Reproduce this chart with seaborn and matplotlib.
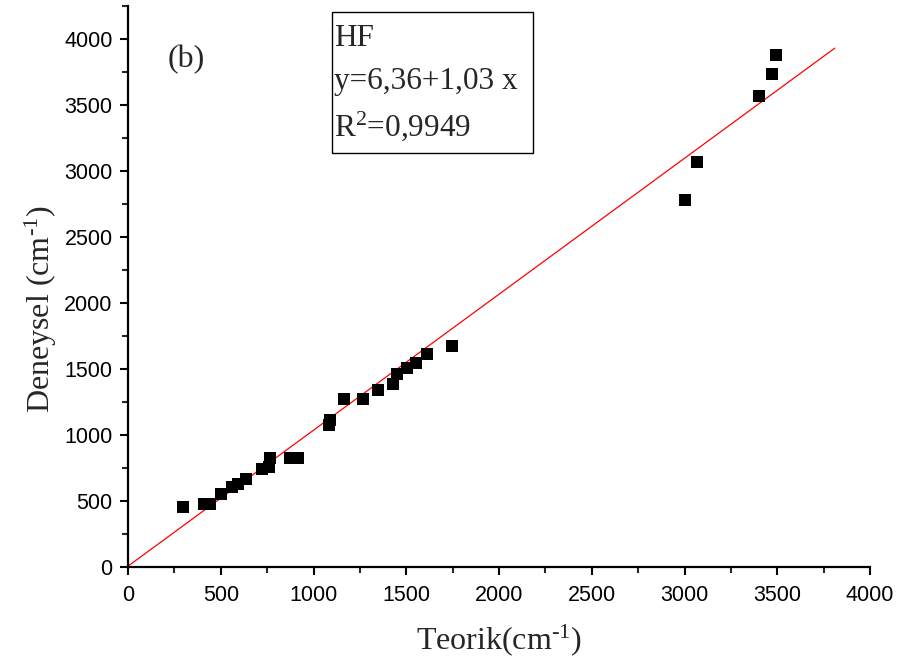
import matplotlib
matplotlib.use("Agg")
import matplotlib.pyplot as plt
import seaborn as sns
import pandas as pd
from matplotlib.patches import Rectangle

# Data
teorik = [298, 411, 442, 501, 559, 595, 634, 721, 762, 765, 873, 918,
          1085, 1089, 1166, 1269, 1350, 1427, 1452, 1502, 1553, 1614, 1748,
          3001, 3066, 3400, 3472, 3493]
deneysel = [455, 480, 480, 556, 606, 632, 665, 746, 758, 822, 826, 826,
            1074, 1112, 1269, 1269, 1340, 1383, 1459, 1504, 1542, 1613, 1678,
            2780, 3066, 3568, 3738, 3877]
fit_intercept = 6.36
fit_slope = 1.03
fit_x = [0, 3810]
x_ticks = [0, 500, 1000, 1500, 2000, 2500, 3000, 3500, 4000]
y_ticks = [0, 500, 1000, 1500, 2000, 2500, 3000, 3500, 4000]

sns.set_theme(style="ticks")
plt.rcParams['font.family'] = ['Liberation Sans', 'DejaVu Sans']
plt.rcParams['mathtext.fontset'] = 'custom'
plt.rcParams['mathtext.rm'] = 'Liberation Serif'
plt.rcParams['mathtext.it'] = 'Liberation Serif:italic'
plt.rcParams['mathtext.bf'] = 'Liberation Serif:bold'

df = pd.DataFrame({"Teorik": teorik, "Deneysel": deneysel})
fit_df = pd.DataFrame({"x": fit_x,
                       "y": [fit_intercept + fit_slope * v for v in fit_x]})

fig = plt.figure(figsize=(8.98, 6.71), dpi=100)
ax = fig.add_axes([128 / 898, 1 - 567 / 671, (870 - 128) / 898, (567 - 6) / 671])

sns.lineplot(data=fit_df, x="x", y="y", ax=ax, color="red", linewidth=0.9)
sns.scatterplot(data=df, x="Teorik", y="Deneysel", ax=ax, marker="s",
                s=85, color="black", edgecolor="black", linewidth=0, zorder=3)

ax.set_xlim(0, 4000)
ax.set_ylim(0, 4250)
ax.set_xticks(x_ticks)
ax.set_yticks(y_ticks)
ax.set_xticks([250 + 500 * i for i in range(8)], minor=True)
ax.set_yticks([250 + 500 * i for i in range(9)], minor=True)
ax.tick_params(which="major", direction="out", length=6, width=1.5,
               labelsize=15.5, colors="black")
ax.tick_params(axis="x", which="major", pad=7)
ax.tick_params(axis="y", which="major", pad=5)
ax.tick_params(which="minor", direction="out", length=4, width=1.5)
for s in ["top", "right"]:
    ax.spines[s].set_visible(False)
for s in ["left", "bottom"]:
    ax.spines[s].set_linewidth(1.6)
    ax.spines[s].set_color("black")

serif = ['Liberation Serif', 'DejaVu Serif']
sup = r"$^{\text{-1}}$"
ax.set_xlabel("Teorik(cm" + sup + ")", fontsize=23, family=serif, labelpad=12)
ax.set_ylabel("Deneysel (cm" + sup + ")", fontsize=23, family=serif)
ax.yaxis.set_label_coords(-0.093, 0.46)

fig.text(186 / 898, 1 - 60 / 671, "(b)", fontsize=23, family=serif,
         ha="center", va="center")

fig.patches.append(Rectangle((332 / 898, 1 - 153 / 671), (533 - 332) / 898,
                             (153 - 12) / 671, transform=fig.transFigure,
                             fill=False, edgecolor="black", linewidth=1.0))
fig.text(334 / 898, 1 - 38 / 671, "HF", fontsize=22.5, family=serif, va="center")
fig.text(334 / 898, 1 - 81 / 671, "y=6,36+1,03 x", fontsize=22.5, family=serif,
         va="center")
fig.text(334 / 898, 1 - 126 / 671, r"R$^{\text{2}}$=0,9949", fontsize=22.5,
         family=serif, va="center")

fig.savefig("out.png", dpi=100)
